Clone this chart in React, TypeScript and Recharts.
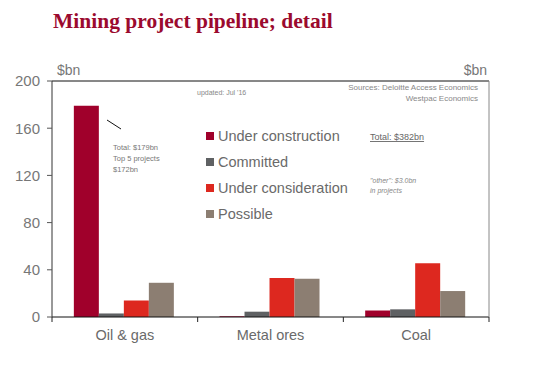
import {
  Bar,
  BarChart,
  ReferenceLine,
  XAxis,
  YAxis,
} from 'recharts'

const categories = ['Oil & gas', 'Metal ores', 'Coal']
const underConstruction = [179, 0.6, 5.5]
const committed = [3, 4.5, 6.5]
const underConsideration = [14, 33, 45.5]
const possible = [29, 32.5, 22]
const yTicks = [0, 40, 80, 120, 160, 200]

const series = [
  { key: 'uc', name: 'Under construction', color: '#a0002b' },
  { key: 'cm', name: 'Committed', color: '#5f6163' },
  { key: 'ucons', name: 'Under consideration', color: '#dd281f' },
  { key: 'ps', name: 'Possible', color: '#8c7e72' },
]

const data = categories.map((name, i) => ({
  name,
  uc: underConstruction[i],
  cm: committed[i],
  ucons: underConsideration[i],
  ps: possible[i],
}))

const font = '"Liberation Sans", Arial, sans-serif'
const grey = '#777'
const catOffset = 13 // tickSize + tickMargin of the category axis

// category label in the middle, tick marks on the band edges
const CatTick = (props: any) => {
  const { x, y, payload, width, visibleTicksCount, index } = props
  const band = width / visibleTicksCount
  const top = y - catOffset
  return (
    <g>
      <line x1={x - band / 2} x2={x - band / 2} y1={top} y2={top + 5} stroke="#222" />
      {index === visibleTicksCount - 1 && (
        <line x1={x + band / 2} x2={x + band / 2} y1={top} y2={top + 5} stroke="#222" />
      )}
      <text x={x} y={y} dy="0.71em" textAnchor="middle" fill="#6a6a6a" fontSize={14.5} fontFamily={font}>
        {payload.value}
      </text>
    </g>
  )
}

export default function App() {
  return (
    <div style={{ position: 'relative', width: 535, height: 366, background: '#fff' }}>
      <style>{'body{margin:0}'}</style>
      <BarChart
        width={535}
        height={366}
        data={data}
        margin={{ top: 81, right: 0, bottom: 19, left: 0 }}
        barCategoryGap="15%"
        barGap={0}
      >
        <XAxis
          dataKey="name"
          tickLine={false}
          tickSize={6}
          tickMargin={7}
          height={30}
          axisLine={{ stroke: '#111' }}
          tick={<CatTick />}
        />
        <YAxis
          yAxisId="left"
          domain={[0, 200]}
          ticks={yTicks}
          width={52}
          tickSize={5}
          tickMargin={7}
          axisLine={{ stroke: '#333' }}
          tickLine={{ stroke: '#555' }}
          tick={{ fill: grey, fontSize: 15, fontFamily: font }}
        />
        <YAxis
          yAxisId="right"
          orientation="right"
          domain={[0, 200]}
          ticks={yTicks}
          width={46}
          tickSize={5}
          tickMargin={3}
          axisLine={{ stroke: '#888' }}
          tickLine={{ stroke: '#888' }}
          tick={{ fill: grey, fontSize: 15, fontFamily: font }}
        />
        <ReferenceLine yAxisId="left" y={200} stroke="#111" />
        {series.map((s) => (
          <Bar
            key={s.key}
            yAxisId="left"
            dataKey={s.key}
            name={s.name}
            fill={s.color}
            isAnimationActive={false}
          />
        ))}
      </BarChart>
      <div style={{ position: 'absolute', left: 206, top: 123, fontFamily: font }}>
        {series.map((s) => (
          <div
            key={s.key}
            style={{ display: 'flex', alignItems: 'center', height: 26, color: '#6a6a6a', fontSize: 14.5 }}
          >
            <span style={{ width: 8, height: 8, background: s.color, marginRight: 4, display: 'inline-block' }} />
            {s.name}
          </div>
        ))}
      </div>
      <svg
        width={535}
        height={366}
        style={{ position: 'absolute', left: 0, top: 0, pointerEvents: 'none' }}
      >
        <text x={53} y={28} fontFamily='"Liberation Serif", "Times New Roman", serif' fontWeight="bold" fontSize={21.5} fill="#9b0a2e">
          Mining project pipeline; detail
        </text>
        <text x={57} y={75} fontFamily={font} fontSize={14} fill={grey}>$bn</text>
        <text x={487} y={75} textAnchor="end" fontFamily={font} fontSize={14} fill={grey}>$bn</text>
        <text x={197} y={95} fontFamily={font} fontSize={7} fill="#888">updated:  Jul '16</text>
        <text x={478} y={90} textAnchor="end" fontFamily={font} fontSize={8} fill="#888">Sources:  Deloitte Access Economics</text>
        <text x={478} y={101} textAnchor="end" fontFamily={font} fontSize={8} fill="#888">Westpac Economics</text>
        <text x={370} y={140} fontFamily={font} fontSize={9} fill="#666" textDecoration="underline">Total:  $382bn</text>
        <text x={370} y={183} fontFamily={font} fontSize={7} fontStyle="italic" fill="#888">"other": $3.0bn</text>
        <text x={370} y={193} fontFamily={font} fontSize={7} fontStyle="italic" fill="#888">in projects</text>
        <text x={113} y={150} fontFamily={font} fontSize={7.5} fill="#777">Total: $179bn</text>
        <text x={113} y={161} fontFamily={font} fontSize={7.5} fill="#777">Top 5 projects</text>
        <text x={113} y={172} fontFamily={font} fontSize={7.5} fill="#777">$172bn</text>
        <line x1={107} y1={120} x2={121} y2={129} stroke="#111" strokeWidth={1} />
      </svg>
    </div>
  )
}
